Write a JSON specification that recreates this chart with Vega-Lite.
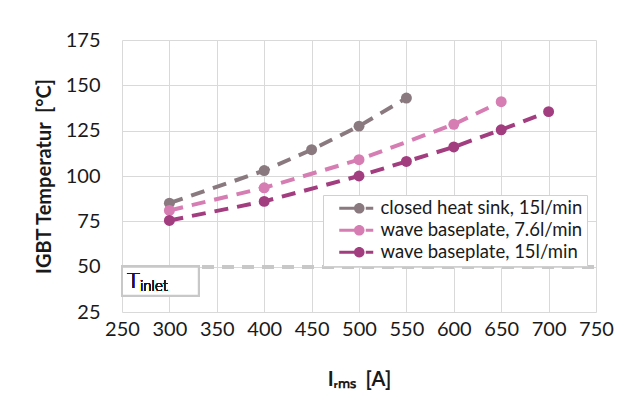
{
  "$schema": "https://vega.github.io/schema/vega-lite/v6.json",
  "width": 474,
  "height": 272,
  "autosize": {"type": "none"},
  "padding": {"left": 122, "top": 40, "right": 48, "bottom": 97},
  "background": "white",
  "config": {
    "font": "Lato",
    "view": {"stroke": null},
    "axis": {
      "grid": true,
      "gridColor": "#d9d9d9",
      "gridWidth": 1,
      "domain": false,
      "ticks": false,
      "labelFlush": false,
      "labelOverlap": false,
      "labelFont": "Lato",
      "labelFontSize": 20,
      "labelColor": "#1a1a1a",
      "titleFont": "Lato",
      "titleFontSize": 20,
      "titleFontWeight": "bold",
      "titleColor": "#1a1a1a"
    }
  },
  "data": {
    "values": [
      {"series": "closed heat sink, 15l/min", "I": 300, "T": 85},
      {"series": "closed heat sink, 15l/min", "I": 400, "T": 103},
      {"series": "closed heat sink, 15l/min", "I": 450, "T": 114.5},
      {"series": "closed heat sink, 15l/min", "I": 500, "T": 127.5},
      {"series": "closed heat sink, 15l/min", "I": 550, "T": 143},
      {"series": "wave baseplate, 7.6l/min", "I": 300, "T": 81},
      {"series": "wave baseplate, 7.6l/min", "I": 400, "T": 93.5},
      {"series": "wave baseplate, 7.6l/min", "I": 500, "T": 109},
      {"series": "wave baseplate, 7.6l/min", "I": 600, "T": 128.5},
      {"series": "wave baseplate, 7.6l/min", "I": 650, "T": 141},
      {"series": "wave baseplate, 15l/min", "I": 300, "T": 75.5},
      {"series": "wave baseplate, 15l/min", "I": 400, "T": 86},
      {"series": "wave baseplate, 15l/min", "I": 500, "T": 100},
      {"series": "wave baseplate, 15l/min", "I": 550, "T": 108},
      {"series": "wave baseplate, 15l/min", "I": 600, "T": 116},
      {"series": "wave baseplate, 15l/min", "I": 650, "T": 125.5},
      {"series": "wave baseplate, 15l/min", "I": 700, "T": 135.5}
    ]
  },
  "encoding": {
    "x": {
      "field": "I", "type": "quantitative",
      "scale": {"domain": [250, 750], "nice": false, "zero": false},
      "axis": {"values": [250, 300, 350, 400, 450, 500, 550, 600, 650, 700, 750], "labelPadding": 7, "title": "Iᵣₘₛ\u00a0 [A]", "titlePadding": 30}
    },
    "y": {
      "field": "T", "type": "quantitative",
      "scale": {"domain": [25, 175], "nice": false, "zero": false},
      "axis": {"values": [25, 50, 75, 100, 125, 150, 175], "labelPadding": 22, "title": "IGBT Temperatur\u00a0 [°C]", "titlePadding": 11}
    }
  },
  "layer": [
    {
      "mark": {"type": "rule", "color": "#c8c8c8", "strokeWidth": 3, "strokeDash": [12, 8]},
      "encoding": {
        "x": {"datum": 250},
        "x2": {"datum": 750},
        "y": {"datum": 50}
      }
    },
    {
      "mark": {"type": "rect", "fill": "white", "stroke": "#c8c8c8", "strokeWidth": 2},
      "encoding": {
        "x": {"datum": 250},
        "x2": {"datum": 331},
        "y": {"datum": 50},
        "y2": {"datum": 34}
      }
    },
    {
      "mark": {"type": "text", "text": "T", "fontSize": 22, "fontWeight": 300, "align": "left", "baseline": "middle", "color": "#1a1a1a", "dx": 5},
      "encoding": {
        "x": {"datum": 250},
        "y": {"datum": 42}
      }
    },
    {
      "mark": {"type": "text", "text": "inlet", "fontSize": 15, "fontWeight": 300, "align": "left", "baseline": "middle", "color": "#1a1a1a", "dx": 18, "dy": 5},
      "encoding": {
        "x": {"datum": 250},
        "y": {"datum": 42}
      }
    },
    {
      "mark": {"type": "line", "strokeWidth": 4, "strokeDash": [14, 9], "point": {"filled": true, "size": 120, "opacity": 1}},
      "encoding": {
        "color": {
          "field": "series", "type": "nominal",
          "scale": {
            "domain": ["closed heat sink, 15l/min", "wave baseplate, 7.6l/min", "wave baseplate, 15l/min"],
            "range": ["#8a7a80", "#d67db3", "#a23d80"]
          },
          "legend": {
            "title": null,
            "orient": "none",
            "legendX": 201,
            "legendY": 155,
            "direction": "vertical",
            "fillColor": "white",
            "strokeColor": "#d0d0d0",
            "padding": 4,
            "symbolOffset": 23,
            "labelFont": "Lato",
            "labelFontSize": 18.5,
            "labelColor": "#1a1a1a",
            "labelLimit": 0,
            "labelOffset": 12,
            "rowPadding": 3,
            "symbolType": "M-2.83,-0.21 L-0.57,-0.21 L-0.57,0.21 L-2.83,0.21 Z M0.75,0 A0.75,0.75 0 1,1 -0.75,0 A0.75,0.75 0 1,1 0.75,0 Z M0.92,-0.21 L1.98,-0.21 L1.98,0.21 L0.92,0.21 Z",
            "symbolSize": 200,
            "symbolStrokeWidth": 0,
            "symbolOpacity": 1
          }
        }
      }
    }
  ]
}
